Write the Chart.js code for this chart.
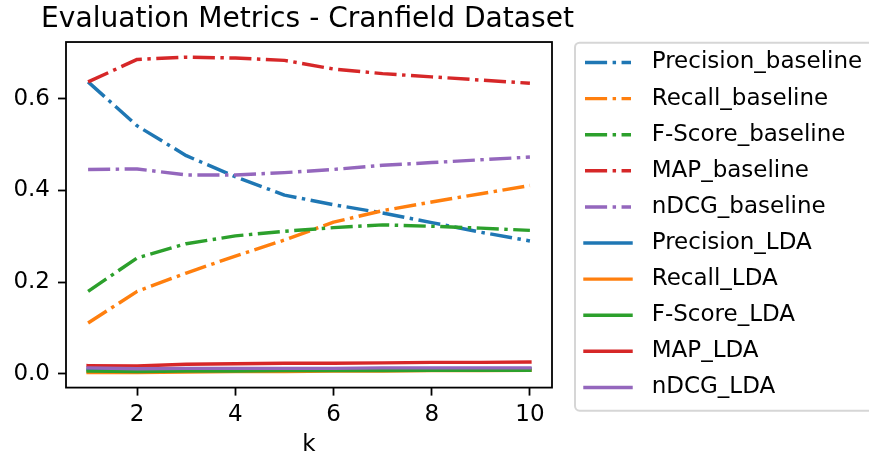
<!DOCTYPE html>
<html>
<head>
<meta charset="utf-8">
<title>Evaluation Metrics - Cranfield Dataset</title>
<script src="https://cdn.jsdelivr.net/npm/chart.js@4.4.1/dist/chart.umd.min.js"></script>
<style>
  html, body { margin: 0; padding: 0; background: #fff; overflow: hidden; }
  #wrap { width: 869px; height: 464px; position: relative; }
</style>
</head>
<body>
<div id="wrap"><canvas id="myChart"></canvas></div>
<script>
'use strict';

// data

let kValues = [1, 2, 3, 4, 5, 6, 7, 8, 9, 10];
let kTicks = [2, 4, 6, 8, 10];
let yTicks = [0, 0.2, 0.4, 0.6];

let precisionBaseline = [0.637, 0.541, 0.476, 0.430, 0.390, 0.369, 0.351, 0.330, 0.309, 0.290];
let recallBaseline = [0.111, 0.180, 0.220, 0.257, 0.292, 0.331, 0.356, 0.375, 0.393, 0.411];
let fscoreBaseline = [0.180, 0.253, 0.284, 0.301, 0.311, 0.319, 0.325, 0.322, 0.318, 0.313];
let mapBaseline = [0.637, 0.686, 0.691, 0.689, 0.684, 0.665, 0.655, 0.648, 0.641, 0.634];
let ndcgBaseline = [0.446, 0.447, 0.434, 0.434, 0.439, 0.446, 0.455, 0.461, 0.467, 0.473];

let precisionLDA = [0.010, 0.009, 0.010, 0.010, 0.010, 0.010, 0.010, 0.010, 0.011, 0.011];
let recallLDA = [0.003, 0.003, 0.004, 0.005, 0.005, 0.006, 0.006, 0.007, 0.007, 0.008];
let fscoreLDA = [0.006, 0.005, 0.006, 0.006, 0.007, 0.007, 0.007, 0.008, 0.008, 0.008];
let mapLDA = [0.018, 0.017, 0.021, 0.022, 0.023, 0.023, 0.024, 0.025, 0.025, 0.026];
let ndcgLDA = [0.013, 0.011, 0.012, 0.012, 0.012, 0.012, 0.013, 0.013, 0.013, 0.013];

let seriesNames = [
  'Precision_baseline', 'Recall_baseline', 'F-Score_baseline', 'MAP_baseline', 'nDCG_baseline',
  'Precision_LDA', 'Recall_LDA', 'F-Score_LDA', 'MAP_LDA', 'nDCG_LDA'
];
let seriesValues = [
  precisionBaseline, recallBaseline, fscoreBaseline, mapBaseline, ndcgBaseline,
  precisionLDA, recallLDA, fscoreLDA, mapLDA, ndcgLDA
];

// styles (matplotlib look)

let colors = ['#1f77b4', '#ff7f0e', '#2ca02c', '#d62728', '#9467bd'];
let lineWidth = 3.45;
let dashDot = [22.1, 5.5, 3.45, 5.5];
let fontFamily = "'DejaVu Sans', sans-serif";

function makeDataset(name, values, i) {
  let isBaseline = name.indexOf('baseline') !== -1;
  return {
    label: name,
    data: values.map((v, j) => ({ x: kValues[j], y: v })),
    yAxisID: 'y',
    borderColor: colors[i % 5],
    backgroundColor: colors[i % 5],
    borderWidth: lineWidth,
    borderDash: isBaseline ? dashDot : [],
    borderCapStyle: isBaseline ? 'butt' : 'square',
    borderJoinStyle: 'round',
    pointRadius: 0,
    pointHoverRadius: 0,
    tension: 0,
    fill: false,
    // later series on top, like matplotlib
    order: seriesNames.length - i
  };
}

// frame around the axes
const axesFrame = {
  id: 'axesFrame',
  afterDatasetsDraw(chart) {
    let a = chart.chartArea;
    let ctx = chart.ctx;
    ctx.save();
    ctx.lineWidth = 1.8;
    ctx.strokeStyle = '#000';
    ctx.strokeRect(a.left, a.top, a.right - a.left, a.bottom - a.top);
    ctx.restore();
  }
};

function roundedRect(ctx, x, y, w, h, r) {
  ctx.beginPath();
  ctx.moveTo(x + r, y);
  ctx.arcTo(x + w, y, x + w, y + h, r);
  ctx.arcTo(x + w, y + h, x, y + h, r);
  ctx.arcTo(x, y + h, x, y, r);
  ctx.arcTo(x, y, x + w, y, r);
  ctx.closePath();
}

// matplotlib style legend, outside the axes on the right
const sideLegend = {
  id: 'sideLegend',
  afterDraw(chart) {
    let a = chart.chartArea;
    let ctx = chart.ctx;
    let left = a.right + 23;
    let top = 42.7;
    let rowHeight = 36.1;
    let firstRow = 62.5;

    ctx.save();
    roundedRect(ctx, left, top, 330, 368, 4.6);
    ctx.fillStyle = 'rgba(255, 255, 255, 0.8)';
    ctx.fill();
    ctx.lineWidth = 2;
    ctx.strokeStyle = 'rgba(204, 204, 204, 0.8)';
    ctx.stroke();

    chart.data.datasets.forEach((ds, i) => {
      let y = firstRow + i * rowHeight;
      let x0 = left + 10;
      ctx.beginPath();
      ctx.setLineDash(ds.borderDash);
      ctx.lineCap = ds.borderCapStyle;
      ctx.lineWidth = ds.borderWidth;
      ctx.strokeStyle = ds.borderColor;
      ctx.moveTo(x0, y);
      ctx.lineTo(x0 + 46, y);
      ctx.stroke();

      ctx.setLineDash([]);
      ctx.fillStyle = '#000';
      ctx.font = '23px ' + fontFamily;
      ctx.textAlign = 'left';
      ctx.textBaseline = 'middle';
      ctx.fillText(ds.label, x0 + 46 + 20.7, y);
    });
    ctx.restore();
  }
};

function renderChart() {
  let datasets = [];
  for (let i = 0; i < seriesNames.length; i++) {
    datasets.push(makeDataset(seriesNames[i], seriesValues[i], i));
  }

  const tickFont = { family: fontFamily, size: 23, lineHeight: 1.2 };

  const config = {
    type: 'line',
    data: { datasets: datasets },
    options: {
      responsive: true,
      maintainAspectRatio: false,
      animation: false,
      events: [],
      layout: { padding: { left: 0, right: 254, top: 0, bottom: 9.8 } },
      plugins: {
        legend: { display: false },
        tooltip: { enabled: false },
        title: {
          display: true,
          text: 'Evaluation Metrics - Cranfield Dataset',
          color: '#000',
          font: { family: fontFamily, size: 28.1, weight: 'normal', lineHeight: 1.2 },
          padding: { top: 3.1, bottom: 5.2 }
        }
      },
      scales: {
        x: {
          type: 'linear',
          min: 0.55,
          max: 10.45,
          afterBuildTicks: (axis) => {
            axis.ticks = kTicks.map(v => ({ value: v }));
          },
          ticks: { color: '#000', font: tickFont, padding: 6, maxRotation: 0 },
          grid: {
            drawOnChartArea: false,
            drawTicks: true,
            tickLength: 8,
            tickWidth: 1.8,
            tickColor: '#000'
          },
          border: { display: false },
          title: {
            display: true,
            text: 'k',
            color: '#000',
            font: { family: fontFamily, size: 23, lineHeight: 0.826 },
            padding: { top: 0, bottom: 0 }
          }
        },
        y: {
          min: -0.030,
          max: 0.724,
          afterBuildTicks: (axis) => {
            axis.ticks = yTicks.map(v => ({ value: v }));
          },
          afterFit: (axis) => {
            axis.width = 66;
          },
          ticks: {
            color: '#000',
            font: tickFont,
            padding: 8,
            callback: (v) => Number(v).toFixed(1)
          },
          grid: {
            drawOnChartArea: false,
            drawTicks: true,
            tickLength: 8,
            tickWidth: 1.8,
            tickColor: '#000'
          },
          border: { display: false }
        },
        // empty axis that keeps the gap between the plot and the legend
        gap: {
          type: 'linear',
          axis: 'y',
          position: 'right',
          ticks: { display: false },
          grid: { display: false },
          border: { display: false },
          afterFit: (axis) => {
            axis.width = 63;
          }
        }
      }
    },
    plugins: [axesFrame, sideLegend]
  };

  let canvasChart = document.getElementById('myChart');
  return new Chart(canvasChart, config);
}

// executable code

renderChart();
</script>
</body>
</html>
